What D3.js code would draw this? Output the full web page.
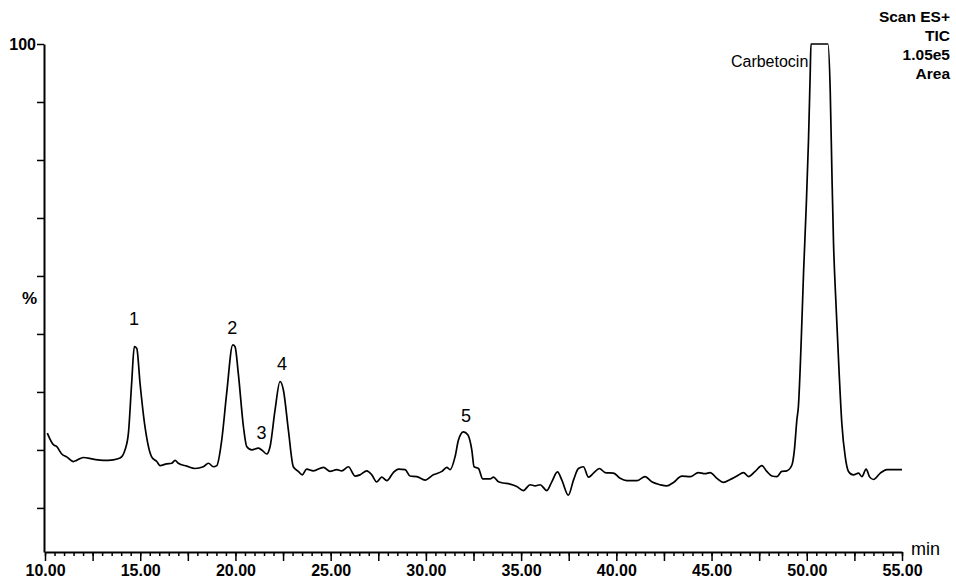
<!DOCTYPE html>
<html>
<head>
<meta charset="utf-8">
<script src="https://cdn.jsdelivr.net/npm/d3@7"></script>
<style>
  body { margin: 0; background: #fff; }
  svg { display: block; }
  text { font-family: "Liberation Sans", Arial, sans-serif; fill: #000; }
  .axis path, .axis line { stroke: #000; }
  .axis text { font-weight: bold; font-size: 16px; }
</style>
</head>
<body>
<svg id="chart" width="956" height="579"></svg>
<script>
// retention time (min) and relative intensity (%)
const times = [10.12,10.44,10.61,10.88,11.14,11.49,11.66,12.01,12.54,13.06,
  13.59,13.94,14.20,14.38,14.55,14.69,14.82,14.99,15.25,15.60,
  15.87,16.04,16.39,16.65,16.83,17.00,17.44,17.88,18.31,18.58,
  18.84,19.02,19.28,19.54,19.86,19.98,20.15,20.42,20.59,20.86,
  21.20,21.38,21.64,21.82,22.08,22.34,22.52,22.78,23.04,23.30,
  23.51,23.74,24.09,24.62,24.97,25.32,25.58,25.93,26.28,26.54,
  26.90,27.16,27.42,27.68,27.95,28.29,28.56,28.91,29.17,29.52,
  29.96,30.39,30.84,31.10,31.27,31.53,31.71,31.97,32.20,32.41,
  32.53,32.76,32.99,33.37,33.55,33.81,34.07,34.42,34.77,35.12,
  35.47,35.74,36.00,36.35,36.61,36.91,37.14,37.48,37.75,38.01,
  38.27,38.54,38.80,39.11,39.41,39.85,40.20,40.55,41.08,41.51,
  41.86,42.30,42.65,43.00,43.44,43.88,44.31,44.66,44.93,45.28,
  45.63,45.98,46.33,46.68,46.94,47.29,47.64,47.90,48.17,48.43,
  48.69,48.95,49.22,49.35,49.48,49.56,49.71,49.83,49.97,50.09,
  50.18,50.22,51.11,51.23,51.32,51.40,51.54,51.70,51.84,52.02,
  52.19,52.45,52.72,52.89,53.12,53.29,53.50,53.86,54.21,54.55,
  55.00];
const pcts = [32.9,30.9,30.6,29.3,28.8,28.0,28.2,28.7,28.4,28.2,
  28.3,28.6,30.0,32.9,41.5,47.8,47.5,41.5,34.0,28.8,
  28.0,27.3,27.6,27.7,28.2,27.7,27.2,26.8,27.1,27.7,
  27.1,27.3,31.7,39.8,48.1,47.8,43.2,34.0,30.6,30.0,
  30.3,30.0,29.3,30.6,36.9,41.8,40.3,33.4,27.1,26.3,
  25.7,26.7,26.4,27.0,26.3,26.6,26.4,27.1,25.5,25.7,
  26.4,25.7,24.5,25.3,24.7,26.1,26.7,26.6,25.5,25.4,
  24.8,25.7,26.3,27.0,26.6,28.8,31.7,33.1,32.6,30.0,
  27.1,26.8,25.0,25.0,25.3,24.5,24.3,24.1,23.7,23.0,
  24.0,23.8,24.0,23.0,24.5,26.2,24.8,22.2,24.8,26.8,
  27.1,25.3,26.0,26.8,26.1,26.0,25.1,24.7,24.7,25.4,
  24.5,24.0,23.8,24.4,25.5,25.4,26.1,25.9,26.1,25.1,
  24.4,24.9,25.5,26.1,25.4,26.3,27.3,26.3,25.5,25.4,
  26.3,26.4,27.4,30.0,35.2,37.5,49.0,60.5,71.9,83.4,
  94.9,100,100,92.1,77.7,66.2,54.7,43.2,34.6,28.8,
  26.3,25.7,26.0,25.4,26.7,25.4,24.9,26.0,26.6,26.6,
  26.6];

// peak annotations
const peakLabels = ["1", "2", "3", "4", "5", "Carbetocin"];
const peakTimes = [14.67, 19.83, 21.37, 22.45, 32.11, 50.08];
const peakPcts = [51.6, 50.0, 31.8, 43.8, 34.8, 96.0];

// header block, top right
const headerLines = ["Scan ES+", "TIC", "1.05e5", "Area"];

const xMajorTicks = d3.range(10, 55.01, 2.5);
const xMinorTicks = d3.range(10, 55.01, 0.5);
const yTicks = d3.range(20, 100.01, 10);

const svg = d3.select("#chart");

let xScale = d3.scaleLinear()
    .domain([10, 55])
    .range([45, 902]);

let yScale = d3.scaleLinear()
    .domain([12.4, 100])
    .range([552, 44]);

// minor x ticks
svg.append("g")
    .attr("class", "axis")
    .attr("transform", "translate(0,552)")
    .call(d3.axisBottom(xScale)
        .tickValues(xMinorTicks)
        .tickSize(4)
        .tickSizeOuter(0)
        .tickFormat("")
    )
    .call(g => g.selectAll(".tick line").attr("stroke-width", 1.5));

// major x ticks + labels
svg.append("g")
    .attr("class", "axis")
    .attr("transform", "translate(0,552)")
    .call(d3.axisBottom(xScale)
        .tickValues(xMajorTicks)
        .tickSize(9)
        .tickSizeOuter(0)
        .tickPadding(4)
        .tickFormat(d => d % 5 === 0 ? d3.format(".2f")(d) : "")
    )
    .call(g => g.select(".domain").attr("stroke-width", 2))
    .call(g => g.selectAll(".tick line").attr("stroke-width", 1.5));

// y axis
svg.append("g")
    .attr("class", "axis")
    .attr("transform", "translate(44,0)")
    .call(d3.axisLeft(yScale)
        .tickValues(yTicks)
        .tickSize(7)
        .tickSizeOuter(0)
        .tickPadding(1)
        .tickFormat(d => d === 100 ? "100" : "")
    )
    .call(g => g.select(".domain").attr("stroke-width", 2))
    .call(g => g.selectAll(".tick line").attr("stroke-width", 1.5))
    .call(g => g.selectAll(".tick text").attr("font-size", 15));

// axis titles
svg.append("text")
    .attr("x", 22).attr("y", 304)
    .attr("font-size", 17).attr("font-weight", "bold")
    .text("%");

svg.append("text")
    .attr("x", 911).attr("y", 555)
    .attr("font-size", 18)
    .text("min");

// trace
let line = d3.line()
    .x((d, i) => xScale(times[i]))
    .y(d => yScale(d))
    .curve(d3.curveMonotoneX);

svg.append("path")
    .datum(pcts)
    .attr("fill", "none")
    .attr("stroke", "#000")
    .attr("stroke-width", 1.7)
    .attr("stroke-linejoin", "round")
    .attr("d", line);

// peak labels
svg.selectAll("text.peak")
    .data(peakLabels)
    .enter().append("text")
    .attr("class", "peak")
    .attr("x", (d, i) => xScale(peakTimes[i]))
    .attr("y", (d, i) => yScale(peakPcts[i]))
    .attr("font-size", d => d === "Carbetocin" ? 16 : 18)
    .attr("text-anchor", d => d === "Carbetocin" ? "end" : "middle")
    .text(d => d);

// header
svg.selectAll("text.header")
    .data(headerLines)
    .enter().append("text")
    .attr("class", "header")
    .attr("x", 950)
    .attr("y", (d, i) => 22 + i * 19)
    .attr("font-size", 15.5)
    .attr("font-weight", "bold")
    .attr("text-anchor", "end")
    .text(d => d);
</script>
</body>
</html>
